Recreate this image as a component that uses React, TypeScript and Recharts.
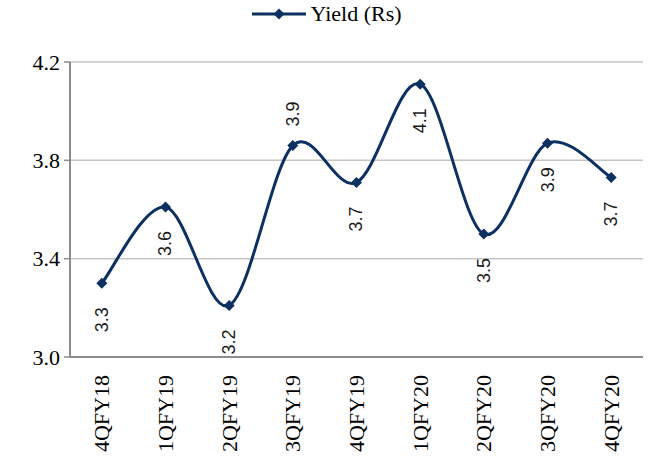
import React from "react";
import { LineChart, Line, XAxis, YAxis, CartesianGrid, LabelList } from "recharts";

const categories = ["4QFY18", "1QFY19", "2QFY19", "3QFY19", "4QFY19", "1QFY20", "2QFY20", "3QFY20", "4QFY20"];
const yieldValues = [3.3, 3.61, 3.21, 3.86, 3.71, 4.11, 3.5, 3.87, 3.73];
const yTicks = [3.0, 3.4, 3.8, 4.2];
const labelAbove = [false, false, false, true, false, false, false, false, false];

const data = categories.map((c, i) => ({ cat: c, idx: i, value: yieldValues[i] }));

const NAVY = "#0B3061";
const SERIF = "'Liberation Serif', 'DejaVu Serif', serif";
const SANS = "'Liberation Sans', Arial, sans-serif";

// Excel-like smoothed line (Catmull-Rom through points)
function excelCurve(context: any) {
  let xs: number[] = [];
  let ys: number[] = [];
  const k = 1 / 6;
  return {
    areaStart() {},
    areaEnd() {},
    lineStart() {
      xs = [];
      ys = [];
    },
    lineEnd() {
      const n = xs.length;
      if (!n) return;
      context.moveTo(xs[0], ys[0]);
      for (let i = 0; i < n - 1; i++) {
        const p0 = i > 0 ? i - 1 : i;
        const p3 = i + 2 < n ? i + 2 : i + 1;
        const c1x = xs[i] + (xs[i + 1] - xs[p0]) * k;
        const c1y = ys[i] + (ys[i + 1] - ys[p0]) * k;
        const c2x = xs[i + 1] - (xs[p3] - xs[i]) * k;
        const c2y = ys[i + 1] - (ys[p3] - ys[i]) * k;
        context.bezierCurveTo(c1x, c1y, c2x, c2y, xs[i + 1], ys[i + 1]);
      }
    },
    point(x: number, y: number) {
      xs.push(+x);
      ys.push(+y);
    },
  };
}

const Diamond = (props: any) => {
  const { cx, cy } = props;
  if (cx == null || cy == null) return null;
  const s = 5.5;
  return <path d={`M${cx},${cy - s}L${cx + s},${cy}L${cx},${cy + s}L${cx - s},${cy}Z`} fill={NAVY} />;
};

const ValueLabel = (props: any) => {
  const { x, y, value, index } = props;
  if (x == null || y == null) return null;
  const above = labelAbove[index];
  const ty = above ? y - 19 : y + 24;
  return (
    <text
      x={x}
      y={ty}
      transform={`rotate(-90 ${x} ${ty})`}
      textAnchor={above ? "start" : "end"}
      dominantBaseline="central"
      fontFamily={SANS}
      fontSize={18}
      fill="#1a1a1a"
    >
      {Number(value).toFixed(1)}
    </text>
  );
};

const XTick = (props: any) => {
  const { x, y, payload } = props;
  const ty = y + 10;
  return (
    <text
      x={x}
      y={ty}
      transform={`rotate(-90 ${x} ${ty})`}
      textAnchor="end"
      dominantBaseline="central"
      fontFamily={SERIF}
      fontSize={22}
      fill="#000"
    >
      {payload.value}
    </text>
  );
};

export default function App() {
  return (
    <div style={{ position: "absolute", left: 0, top: 0, width: 654, height: 457, background: "#fff" }}>
      <div
        style={{
          position: "absolute",
          left: 0,
          top: 1,
          width: 654,
          display: "flex",
          justifyContent: "center",
          alignItems: "center",
          fontFamily: SERIF,
          fontSize: 22,
          color: "#000",
        }}
      >
        <svg width={54} height={16} style={{ marginRight: 4, marginLeft: 0 }}>
          <line x1={0} y1={8} x2={54} y2={8} stroke={NAVY} strokeWidth={3} />
          <path d="M27,2.5L32.5,8L27,13.5L21.5,8Z" fill={NAVY} />
        </svg>
        <span>Yield (Rs)</span>
      </div>
      <LineChart width={654} height={457} data={data} margin={{ top: 62, right: 11, bottom: 0, left: 0 }}>
        <CartesianGrid vertical={false} stroke="#C4C4C4" strokeWidth={1.5} />
        <XAxis
          xAxisId={0}
          type="number"
          dataKey="idx"
          domain={[0, 9]}
          ticks={[0, 1, 2, 3, 4, 5, 6, 7, 8, 9]}
          tick={false}
          height={0}
          axisLine={false}
          tickLine={{ stroke: "#8C8C8C", strokeWidth: 2 }}
          tickSize={6}
        />
        <XAxis
          xAxisId="cat"
          dataKey="cat"
          scale="band"
          interval={0}
          height={100}
          axisLine={{ stroke: "#8C8C8C", strokeWidth: 2 }}
          tickLine={false}
          tick={<XTick />}
        />
        <YAxis
          width={70}
          domain={[3.0, 4.2]}
          ticks={yTicks}
          tickFormatter={(v: number) => v.toFixed(1)}
          axisLine={{ stroke: "#8C8C8C", strokeWidth: 2 }}
          tickLine={{ stroke: "#8C8C8C", strokeWidth: 1.5 }}
          tickSize={6}
          tickMargin={4}
          tick={{ fontFamily: SERIF, fontSize: 22, fill: "#000" }}
        />
        <Line
          xAxisId="cat"
          dataKey="value"
          type={excelCurve as any}
          stroke={NAVY}
          strokeWidth={3}
          dot={<Diamond />}
          activeDot={false}
          isAnimationActive={false}
        >
          <LabelList dataKey="value" content={<ValueLabel />} />
        </Line>
      </LineChart>
    </div>
  );
}
